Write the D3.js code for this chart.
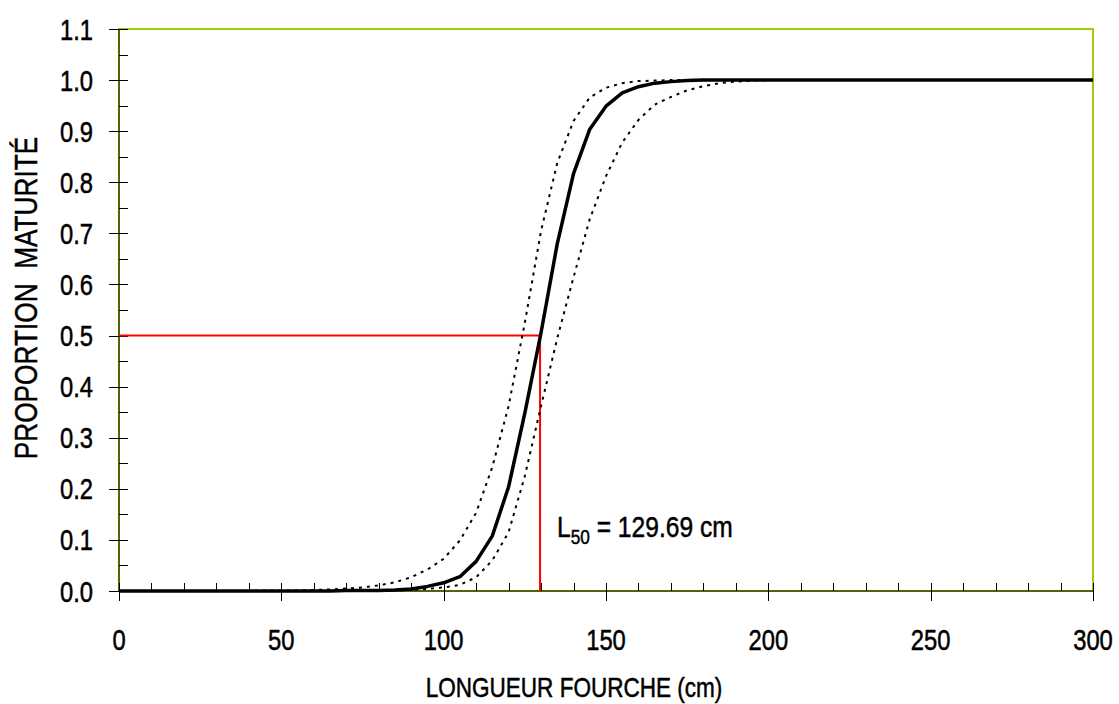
<!DOCTYPE html>
<html>
<head>
<meta charset="utf-8">
<script src="https://d3js.org/d3.v7.min.js"></script>
<style>
  body { margin: 0; background: #fff; }
  text { font-family: "Liberation Sans", Arial, sans-serif; fill: #000; stroke: #000; stroke-width: 0.5px; white-space: pre; }
</style>
</head>
<body>
<div id="chart"></div>
<script>
let width = 1119, height = 704;
let narrow = 0.82; // squeeze Liberation Sans to look like Arial Narrow

// longueur fourche (cm), step 5
let lengths = [0, 5, 10, 15, 20, 25, 30, 35, 40, 45, 50, 55, 60, 65, 70, 75, 80, 85, 90, 95,
  100, 105, 110, 115, 120, 125, 130, 135, 140, 145, 150, 155, 160, 165, 170, 175, 180, 185, 190, 195,
  200, 205, 210, 215, 220, 225, 230, 235, 240, 245, 250, 255, 260, 265, 270, 275, 280, 285, 290, 295, 300];

// proportion maturite - fitted curve
let fitted = [0, 0, 0, 0, 0, 0, 0, 0, 0, 0, 0, 0, 0, 0, 0.001, 0.001, 0.001, 0.002, 0.004, 0.009,
  0.016, 0.028, 0.058, 0.108, 0.204, 0.348, 0.506, 0.680, 0.817, 0.904, 0.949, 0.975, 0.987, 0.994, 0.997, 0.999, 1, 1, 1, 1,
  1, 1, 1, 1, 1, 1, 1, 1, 1, 1, 1, 1, 1, 1, 1, 1, 1, 1, 1, 1, 1];

// upper confidence curve (left dotted)
let upper = [0, 0, 0, 0, 0, 0, 0, 0, 0, 0.001, 0.001, 0.001, 0.002, 0.003, 0.005, 0.007, 0.011, 0.017, 0.027, 0.042,
  0.063, 0.099, 0.153, 0.243, 0.362, 0.525, 0.705, 0.838, 0.920, 0.966, 0.985, 0.994, 0.998, 0.999, 1, 1, 1, 1, 1, 1,
  1, 1, 1, 1, 1, 1, 1, 1, 1, 1, 1, 1, 1, 1, 1, 1, 1, 1, 1, 1, 1];

// lower confidence curve (right dotted)
let lower = [0, 0, 0, 0, 0, 0, 0, 0, 0, 0, 0, 0, 0, 0, 0, 0, 0.001, 0.001, 0.002, 0.004,
  0.007, 0.012, 0.027, 0.060, 0.115, 0.225, 0.362, 0.495, 0.614, 0.728, 0.812, 0.878, 0.922, 0.952, 0.967, 0.980, 0.988, 0.994, 0.997, 0.999,
  1, 1, 1, 1, 1, 1, 1, 1, 1, 1, 1, 1, 1, 1, 1, 1, 1, 1, 1, 1, 1];

let L50 = 129.69;
let yTicks = [0, 0.1, 0.2, 0.3, 0.4, 0.5, 0.6, 0.7, 0.8, 0.9, 1.0, 1.1];
let xTicks = [0, 50, 100, 150, 200, 250, 300];

let margin = {left: 119, right: 26, top: 29, bottom: 113};

let svg = d3.select("#chart")
.append("svg")
.attr("width", width)
.attr("height", height);

let x = d3.scaleLinear().domain([0, 300]).range([margin.left, width - margin.right]);
let y = d3.scaleLinear().domain([0, 1.1]).range([height - margin.bottom, margin.top]);

function place(px, py, rot) {
  return "translate(" + px + "," + py + ")" + (rot ? " rotate(" + rot + ")" : "") + " scale(" + narrow + ",1)";
}

// plot border
svg.append("rect")
.attr("x", x(0))
.attr("y", y(1.1))
.attr("width", x(300) - x(0))
.attr("height", y(0) - y(1.1))
.attr("fill", "none")
.attr("stroke", "#9ccc0a")
.attr("stroke-width", 2);

// y axis
let yAxis = svg.append("g").attr("transform", "translate(" + x(0) + ",0)");
yAxis.append("line")
.attr("y1", y(0)).attr("y2", y(1.1))
.attr("stroke", "#000").attr("stroke-width", 1);
yAxis.selectAll(".minor")
.data(d3.range(0.05, 1.1, 0.1))
.enter().append("line")
.attr("x1", 0).attr("x2", 9)
.attr("y1", d => Math.round(y(d)) + 0.5).attr("y2", d => Math.round(y(d)) + 0.5)
.attr("stroke", "#000");
yAxis.selectAll(".major")
.data(yTicks)
.enter().append("line")
.attr("x1", -10).attr("x2", 9)
.attr("y1", d => Math.round(y(d)) + 0.5).attr("y2", d => Math.round(y(d)) + 0.5)
.attr("stroke", "#000");
yAxis.selectAll(".lbl")
.data(yTicks)
.enter().append("text")
.attr("transform", d => place(-26, y(d) + 10.5))
.attr("text-anchor", "end")
.style("font-size", "29px")
.text(d => d3.format(".1f")(d));

// x axis
let xAxis = svg.append("g").attr("transform", "translate(0," + y(0) + ")");
xAxis.append("line")
.attr("x1", x(0)).attr("x2", x(300))
.attr("stroke", "#000").attr("stroke-width", 1);
xAxis.selectAll(".minor")
.data(d3.range(0, 301, 10))
.enter().append("line")
.attr("x1", d => Math.round(x(d)) + 0.5).attr("x2", d => Math.round(x(d)) + 0.5)
.attr("y1", -8)
.attr("y2", d => d % 50 === 0 ? 10 : 0)
.attr("stroke", "#000");
xAxis.selectAll(".lbl")
.data(xTicks)
.enter().append("text")
.attr("transform", d => place(x(d), 59))
.attr("text-anchor", "middle")
.style("font-size", "29px")
.text(d => d);

// titles
svg.append("text")
.attr("transform", place(574, 697))
.attr("text-anchor", "middle")
.style("font-size", "27.5px")
.text("LONGUEUR FOURCHE (cm)");

svg.append("text")
.attr("transform", place(37, 298, -90))
.attr("text-anchor", "middle")
.style("font-size", "32px")
.text("PROPORTION  MATURITÉ");

// L50 guide lines
svg.append("path")
.attr("d", "M" + x(0) + "," + y(0.5) + "H" + x(L50) + "V" + y(0))
.attr("fill", "none")
.attr("stroke", "#ff0000")
.attr("stroke-width", 2);

let line = d3.line()
.x((d, i) => x(lengths[i]))
.y(d => y(d));

svg.append("path")
.datum(upper)
.attr("d", line)
.attr("fill", "none")
.attr("stroke", "#000")
.attr("stroke-width", 2)
.attr("stroke-dasharray", "3,5");

svg.append("path")
.datum(lower)
.attr("d", line)
.attr("fill", "none")
.attr("stroke", "#000")
.attr("stroke-width", 2)
.attr("stroke-dasharray", "3,5");

svg.append("path")
.datum(fitted)
.attr("d", line)
.attr("fill", "none")
.attr("stroke", "#000")
.attr("stroke-width", 3.5)
.attr("stroke-linejoin", "round");

// L50 label
let lab = svg.append("text")
.attr("transform", place(557, 537))
.style("font-size", "30px");
lab.append("tspan").text("L");
lab.append("tspan").attr("dy", 7).style("font-size", "21px").text("50");
lab.append("tspan").attr("dy", -7).text(" = 129.69 cm");
</script>
</body>
</html>
